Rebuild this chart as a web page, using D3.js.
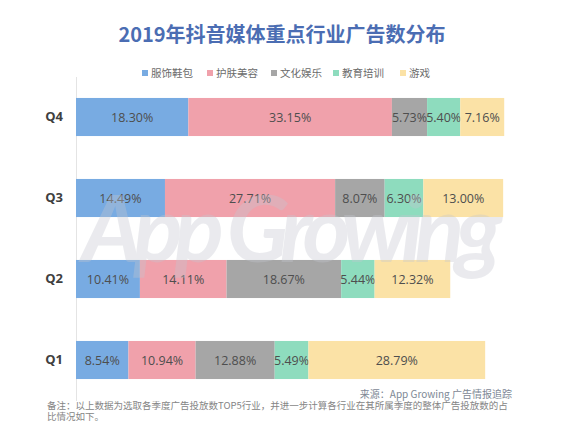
<!DOCTYPE html>
<html>
<head>
<meta charset="utf-8">
<script src="https://cdn.jsdelivr.net/npm/d3@7"></script>
<style>
  body { margin: 0; background: #fff; }
  svg { display: block; }
</style>
</head>
<body>
<svg width="565" height="445"></svg>
<script>
// quarters, top to bottom
const quarters = ['Q4', 'Q3', 'Q2', 'Q1'];
const industries = ['服饰鞋包', '护肤美容', '文化娱乐', '教育培训', '游戏'];
const colors = ['#78abe2', '#f0a1ab', '#a6a6a6', '#8edcbe', '#fbe2a6'];

// share of ads per industry (%), same order as quarters
const clothing  = [18.30, 14.49, 10.41, 8.54];
const skincare  = [33.15, 27.71, 14.11, 10.94];
const entertain = [5.73, 8.07, 18.67, 12.88];
const education = [5.40, 6.30, 5.44, 5.49];
const games     = [7.16, 13.00, 12.32, 28.79];

const title = '2019年抖音媒体重点行业广告数分布';
const source = '来源：App Growing 广告情报追踪';
const note1 = '备注：以上数据为选取各季度广告投放数TOP5行业，并进一步计算各行业在其所属季度的整体广告投放数的占';
const note2 = '比情况如下。';

const series = [clothing, skincare, entertain, education, games];
const table = quarters.map((q, i) => {
  const row = { q };
  industries.forEach((k, j) => row[k] = series[j][i]);
  return row;
});

const svg = d3.select('svg');
const cjk = '"Noto Sans CJK SC", "Noto Sans", sans-serif';

const x = d3.scaleLinear().domain([0, 70]).range([76, 76 + 70 * 6.14]);
const y = d3.scaleBand().domain(quarters).range([76.5, 400.5])
  .paddingInner(0.53).paddingOuter(0.265);

const stacked = d3.stack().keys(industries)(table);

// title
svg.append('text')
  .attr('x', 282).attr('y', 42)
  .attr('text-anchor', 'middle')
  .attr('font-family', cjk)
  .attr('font-weight', 'bold')
  .attr('font-size', 20)
  .attr('fill', '#4b6db3')
  .text(title);

// legend
const legendX = [142, 207, 271, 333, 400];
const lg = svg.append('g');
industries.forEach((k, i) => {
  lg.append('rect')
    .attr('x', legendX[i]).attr('y', 70)
    .attr('width', 6).attr('height', 6)
    .attr('fill', colors[i]);
  lg.append('text')
    .attr('x', legendX[i] + 9).attr('y', 77)
    .attr('font-family', cjk)
    .attr('font-size', 10.5)
    .attr('fill', '#6b6b6b')
    .text(k);
});

// y axis
const yAxis = svg.append('g')
  .attr('transform', `translate(${x(0)},0)`)
  .call(d3.axisLeft(y).tickSize(0).tickPadding(13));
yAxis.select('.domain').attr('stroke', '#e4e4e4');
yAxis.selectAll('text')
  .attr('font-family', '"Open Sans", sans-serif')
  .attr('font-weight', 'bold')
  .attr('font-size', 13)
  .attr('fill', '#404040');

// bars
const layer = svg.append('g').selectAll('g')
  .data(stacked).enter().append('g')
  .attr('fill', (d, i) => colors[i]);

layer.selectAll('rect')
  .data(d => d).enter().append('rect')
  .attr('x', d => x(d[0]))
  .attr('y', d => y(d.data.q))
  .attr('width', d => x(d[1]) - x(d[0]))
  .attr('height', y.bandwidth());

layer.selectAll('text')
  .data(d => d).enter().append('text')
  .attr('x', d => (x(d[0]) + x(d[1])) / 2)
  .attr('y', d => y(d.data.q) + y.bandwidth() / 2)
  .attr('dy', '0.36em')
  .attr('text-anchor', 'middle')
  .attr('font-family', '"Open Sans", sans-serif')
  .attr('font-size', 12.5)
  .attr('fill', '#4e4e4e')
  .text(d => (d[1] - d[0]).toFixed(2) + '%');

// watermark
svg.append('text')
  .attr('x', 82).attr('y', 262)
  .attr('font-family', 'Lato, sans-serif')
  .attr('font-style', 'italic')
  .attr('font-weight', 'bold')
  .attr('font-size', 92)
  .attr('fill', '#c4c6d0')
  .attr('opacity', 0.35)
  .attr('textLength', 420)
  .text('App Growing');

// footnotes
svg.append('text')
  .attr('x', 512).attr('y', 398)
  .attr('text-anchor', 'end')
  .attr('font-family', cjk)
  .attr('font-size', 10)
  .attr('fill', '#7d8895')
  .text(source);

svg.append('text')
  .attr('x', 47).attr('y', 409)
  .attr('font-family', cjk)
  .attr('font-size', 9.5)
  .attr('fill', '#858585')
  .text(note1);

svg.append('text')
  .attr('x', 47).attr('y', 420)
  .attr('font-family', cjk)
  .attr('font-size', 9.5)
  .attr('fill', '#858585')
  .text(note2);
</script>
</body>
</html>
